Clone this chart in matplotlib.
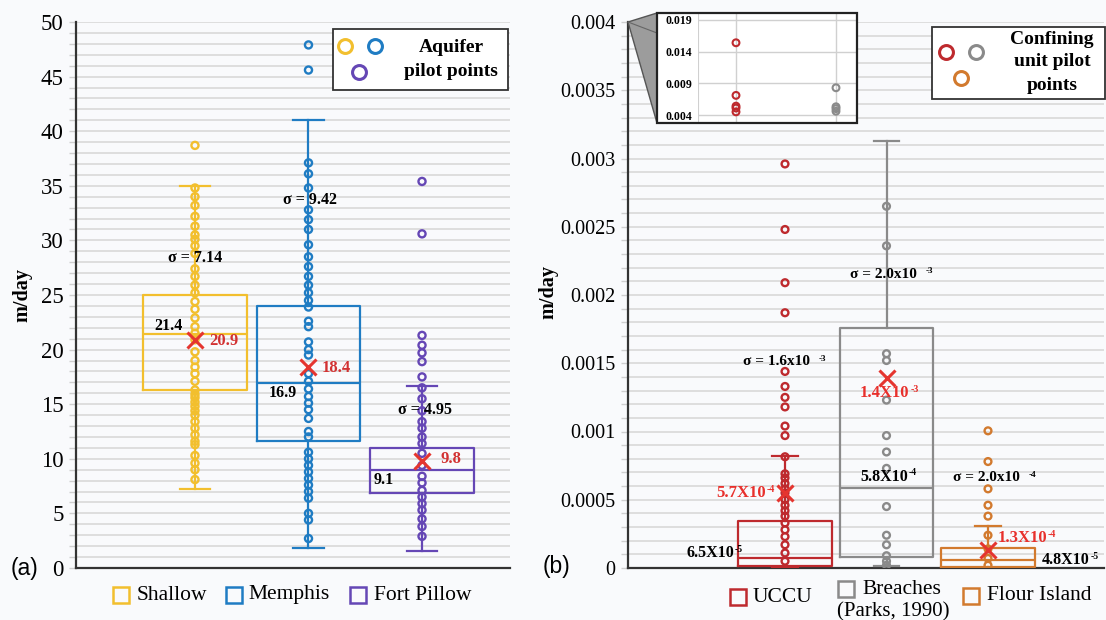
import numpy as np
import matplotlib
matplotlib.use('Agg')
import matplotlib.pyplot as plt
from matplotlib.lines import Line2D
from matplotlib.patches import Rectangle, Polygon

SERIF = ['Liberation Serif', 'DejaVu Serif']
plt.rcParams['font.family'] = SERIF

# ---------------- panel (a) data ----------------
aq_names = ['Shallow', 'Memphis', 'Fort Pillow']
aq_colors = ['#F2BF2E', '#1F7CC3', '#6547B5']
aq_q1 = [16.3, 11.6, 6.9]
aq_med = [21.4, 16.9, 9.0]
aq_q3 = [25.0, 24.0, 11.0]
aq_lo = [7.2, 1.8, 1.6]
aq_hi = [35.0, 41.0, 16.7]
aq_mean = [20.9, 18.4, 9.8]
aq_sigma = ['σ = 7.14', 'σ = 9.42', 'σ = 4.95']
aq_med_lbl = ['21.4', '16.9', '9.1']
aq_mean_lbl = ['20.9', '18.4', '9.8']

shallow_pts = [38.7, 34.8, 34.0, 33.2, 32.2, 31.3, 30.5, 30.1, 29.5, 28.8, 27.4, 26.7,
               25.9, 25.2, 24.4, 23.7, 22.9, 22.1, 21.5, 20.9, 19.8, 19.0, 18.4, 17.8,
               17.1, 16.3, 15.9, 15.6, 15.2, 14.8, 14.4, 14.0, 13.4, 12.8, 12.2, 11.6,
               11.3, 10.3, 9.6, 9.0, 8.1]
memphis_pts = [47.9, 45.6, 37.1, 36.1, 34.8, 32.8, 31.9, 31.0, 29.6, 28.5, 27.6, 26.7,
               25.9, 25.2, 24.5, 23.9, 22.6, 22.1, 20.7, 20.0, 19.5, 17.8, 17.1, 16.4,
               15.7, 15.1, 14.5, 13.7, 12.5, 12.0, 10.6, 10.0, 9.4, 8.8, 8.2, 7.6, 7.0,
               6.4, 5.0, 4.4, 2.7]
fortpillow_pts = [35.4, 30.6, 21.3, 20.4, 19.7, 18.9, 17.5, 16.5, 15.5, 14.4, 13.4, 12.8,
                  12.0, 11.4, 10.5, 9.4, 8.4, 7.8, 7.1, 6.5, 5.9, 5.3, 4.5, 3.8, 2.9]
aq_yticks = [0, 5, 10, 15, 20, 25, 30, 35, 40, 45, 50]

# ---------------- panel (b) data ----------------
cu_names = ['UCCU', 'Breaches', 'Flour Island']
cu_colors = ['#BE2A2E', '#8A8A8A', '#D27A2E']
cu_q1 = [0.000017, 0.000083, 0.00001]
cu_med = [0.000071, 0.000584, 0.00006]
cu_q3 = [0.000347, 0.00176, 0.00015]
cu_lo = [0.0, 0.000015, 0.0]
cu_hi = [0.00082, 0.00313, 0.00031]
cu_mean = [0.00055, 0.00139, 0.00013]

uccu_pts = [0.00296, 0.00248, 0.00209, 0.00187, 0.00144, 0.00133, 0.00125, 0.00118,
            0.00104, 0.00097, 0.000815, 0.00069, 0.00066, 0.00062, 0.00058, 0.00055,
            0.0005, 0.00046, 0.00042, 0.00038, 0.00033, 0.00028, 0.00023, 0.00017,
            0.00011, 0.00005]
breaches_pts = [0.00265, 0.00236, 0.00157, 0.00152, 0.00123, 0.00097, 0.00085, 0.00073,
                0.00045, 0.00024, 0.00017, 0.00009, 0.00005, 0.00002]
flour_pts = [0.001005, 0.00078, 0.00058, 0.00046, 0.00038, 0.00024, 0.00014, 0.00007,
             0.00002]
cu_yticks = [0, 0.0005, 0.001, 0.0015, 0.002, 0.0025, 0.003, 0.0035, 0.004]
cu_yticklabels = ['0', '0.0005', '0.001', '0.0015', '0.002', '0.0025', '0.003', '0.0035', '0.004']

inset_uccu = [0.0154, 0.0071, 0.0054, 0.0051, 0.0045]
inset_breaches = [0.0083, 0.0053, 0.0050, 0.0046]
inset_yticks = [0.004, 0.009, 0.014, 0.019]
inset_yticklabels = ['0.004', '0.009', '0.014', '0.019']

BG = '#F9FAFC'
GRID = '#D9D9D9'
MEANX = '#E5352F'
RED_A = '#D23232'
RED_B = '#E8302C'

W, H = 1106, 620
fig = plt.figure(figsize=(W / 100, H / 100), dpi=100, facecolor=BG)


def rect(x0, y0, x1, y1):
    return [x0 / W, 1 - y1 / H, (x1 - x0) / W, (y1 - y0) / H]


def fx(x):
    return x / W


def fy(y):
    return 1 - y / H


def style_axes(ax, major, minor, labels, lsize):
    ax.set_facecolor(BG)
    for s in ['top', 'right']:
        ax.spines[s].set_visible(False)
    for s in ['left', 'bottom']:
        ax.spines[s].set_color('#333333')
        ax.spines[s].set_linewidth(1.6)
    ax.set_yticks(major)
    ax.set_yticklabels(labels)
    ax.set_yticks(minor, minor=True)
    ax.set_xticks([])
    ax.tick_params(axis='y', which='both', length=5, color='#CFCFCF', width=1, labelsize=lsize, pad=4)
    ax.grid(axis='y', which='both', color=GRID, lw=1.2)
    ax.set_axisbelow(True)


def draw_boxes(ax, q1, med, q3, lo, hi, mean, colors, width, capw, lw):
    stats = [dict(q1=a, med=b, q3=c, whislo=d, whishi=e, mean=f, fliers=[])
             for a, b, c, d, e, f in zip(q1, med, q3, lo, hi, mean)]
    art = ax.bxp(stats, positions=list(range(1, len(stats) + 1)), widths=width,
                 capwidths=capw, showmeans=True, showfliers=False, manage_ticks=False,
                 meanprops=dict(marker='x', markeredgecolor=MEANX, markersize=12,
                                markeredgewidth=2.2, linestyle='none'), zorder=3)
    for i, c in enumerate(colors):
        art['boxes'][i].set(color=c, lw=lw)
        art['medians'][i].set(color=c, lw=lw)
        for w in art['whiskers'][2 * i:2 * i + 2]:
            w.set(color=c, lw=lw)
        for cp in art['caps'][2 * i:2 * i + 2]:
            cp.set(color=c, lw=lw)
        art['means'][i].set_zorder(6)


def expo_text(ax, x, y, base, exp, color, size, ha, gap):
    t = ax.text(x, y, base, color=color, fontsize=size, fontweight='bold', ha=ha,
                va='center', zorder=7)
    ax.annotate(exp, xy=(1, 0.45), xycoords=t, xytext=(gap, 0), textcoords='offset points',
                fontsize=size * 0.6, fontweight='bold', color=color, ha='left', va='bottom',
                zorder=7)


# ================= panel (a) =================
axa = fig.add_axes(rect(76, 22, 510, 568))
style_axes(axa, aq_yticks, np.arange(0, 51, 1), [str(v) for v in aq_yticks], 16.5)
axa.set_ylim(0, 50)
axa.set_xlim(-0.048, 3.775)
draw_boxes(axa, aq_q1, aq_med, aq_q3, aq_lo, aq_hi, aq_mean, aq_colors, 0.91, 0.27, 1.6)
for i, (pts, c) in enumerate(zip([shallow_pts, memphis_pts, fortpillow_pts], aq_colors)):
    axa.scatter(np.full(len(pts), i + 1), pts, s=26, facecolors='none', edgecolors=c,
                linewidths=1.7, zorder=4)

sig_xy = [(1.0, 28.4), (2.01, 33.7), (3.03, 14.5)]
for (x, y), s in zip(sig_xy, aq_sigma):
    axa.text(x, y, s, fontsize=11.5, fontweight='bold', ha='center', va='center', zorder=7)
med_xy = [(0.77, 22.2), (1.77, 16.0), (2.66, 8.1)]
for (x, y), s in zip(med_xy, aq_med_lbl):
    axa.text(x, y, s, fontsize=11.5, fontweight='bold', ha='center', va='center', zorder=7)
mean_xy = [(1.13, 20.8), (2.12, 18.3), (3.16, 9.95)]
for (x, y), s in zip(mean_xy, aq_mean_lbl):
    axa.text(x, y, s, fontsize=12, fontweight='bold', color=RED_A, ha='left', va='center',
             zorder=7)

# ================= panel (b) =================
axb = fig.add_axes(rect(628, 22, 1104, 568))
style_axes(axb, cu_yticks, np.arange(0, 41, 1) * 0.0001, cu_yticklabels, 14.5)
axb.set_ylim(0, 0.004)
axb.set_xlim(-0.547, 4.143)
draw_boxes(axb, cu_q1, cu_med, cu_q3, cu_lo, cu_hi, cu_mean, cu_colors, 0.92, 0.25, 1.6)
for i, (pts, c) in enumerate(zip([uccu_pts, breaches_pts, flour_pts], cu_colors)):
    axb.scatter(np.full(len(pts), i + 1), pts, s=24, facecolors='none', edgecolors=c,
                linewidths=1.7, zorder=4)

expo_text(axb, 0.586, 0.00151, 'σ = 1.6x10', '-3', 'black', 11, 'left', 6)
expo_text(axb, 1.64, 0.00215, 'σ = 2.0x10', '-3', 'black', 11, 'left', 6)
expo_text(axb, 2.655, 0.00066, 'σ = 2.0x10', '-4', 'black', 11, 'left', 6)
expo_text(axb, 0.81, 0.00055, '5.7X10', '-4', RED_B, 12, 'right', 0.5)
expo_text(axb, 1.74, 0.00128, '1.4X10', '-3', RED_B, 12, 'left', 0.5)
expo_text(axb, 3.09, 0.00022, '1.3X10', '-4', RED_B, 12, 'left', 0.5)
expo_text(axb, 0.5, 0.00011, '6.5X10', '-5', 'black', 11.5, 'right', 0.5)
expo_text(axb, 1.74, 0.00067, '5.8X10', '-4', 'black', 11.5, 'left', 0.5)
expo_text(axb, 3.53, 0.00006, '4.8X10', '-5', 'black', 11.5, 'left', 0.5)

# ---- inset (zoom of values above 0.004) ----
fig.add_artist(Polygon([(fx(628), fy(22)), (fx(657), fy(13)), (fx(657), fy(123))],
                       closed=True, facecolor='#9C9C9C', edgecolor='#555555', lw=1,
                       transform=fig.transFigure, zorder=3))
fig.add_artist(Line2D([fx(628), fx(657)], [fy(22), fy(33)], color='#666666', lw=0.8,
                      transform=fig.transFigure, zorder=3.5))
fig.add_artist(Rectangle((fx(657), fy(123)), (857 - 657) / W, 110 / H, facecolor='white',
                         edgecolor='none', transform=fig.transFigure, zorder=4))
axi = fig.add_axes(rect(698, 13, 857, 123), zorder=5)
axi.set_facecolor('white')
axi.set_ylim(0.00274, 0.0201)
axi.set_xlim(0.62, 2.21)
for s in axi.spines.values():
    s.set_visible(False)
axi.set_yticks(inset_yticks)
axi.set_yticklabels(inset_yticklabels)
axi.set_xticks([1, 2])
axi.set_xticklabels([])
axi.tick_params(length=0, labelsize=8.5, pad=4)
for lb in axi.get_yticklabels():
    lb.set_fontweight('bold')
axi.grid(True, color='#D0D0D0', lw=1)
axi.axvline(0.62, color='#D0D0D0', lw=1.5)
axi.set_axisbelow(True)
axi.scatter(np.full(len(inset_uccu), 1), inset_uccu, s=24, facecolors='none',
            edgecolors=cu_colors[0], linewidths=1.5, zorder=4)
axi.scatter(np.full(len(inset_breaches), 2), inset_breaches, s=24, facecolors='none',
            edgecolors=cu_colors[1], linewidths=1.5, zorder=4)
fig.add_artist(Rectangle((fx(657), fy(123)), (857 - 657) / W, 110 / H, facecolor='none',
                         edgecolor='#222222', lw=1.6, transform=fig.transFigure, zorder=6))

# ================= legends / labels (figure level) =================
def fig_marker(x, y, color, marker='o', ms=10, mew=2.2):
    fig.add_artist(Line2D([fx(x)], [fy(y)], marker=marker, markersize=ms, markerfacecolor='none',
                          markeredgecolor=color, markeredgewidth=mew, linestyle='none',
                          transform=fig.transFigure, zorder=8))

# aquifer legend box
fig.add_artist(Rectangle((fx(333), fy(90)), (508 - 333) / W, (90 - 29) / H, facecolor='white',
                         edgecolor='#333333', lw=1.3, transform=fig.transFigure, zorder=7))
fig_marker(345, 46, aq_colors[0])
fig_marker(375, 46, aq_colors[1])
fig_marker(359, 72, aq_colors[2])
fig.text(fx(451), fy(47), 'Aquifer', fontsize=14, fontweight='bold', ha='center', va='center', zorder=9)
fig.text(fx(451), fy(71), 'pilot points', fontsize=14, fontweight='bold', ha='center', va='center', zorder=9)

# confining legend box
fig.add_artist(Rectangle((fx(932), fy(99)), (1105 - 932) / W, (99 - 27) / H, facecolor='white',
                         edgecolor='#333333', lw=1.3, transform=fig.transFigure, zorder=7))
fig_marker(946, 52, cu_colors[0])
fig_marker(976, 52, cu_colors[1])
fig_marker(961, 78, cu_colors[2])
for yy, s in zip([39, 62, 85], ['Confining', 'unit pilot', 'points']):
    fig.text(fx(1052), fy(yy), s, fontsize=14, fontweight='bold', ha='center', va='center', zorder=9)

# bottom legends
leg_a = [(121, 595, 137), (234, 595, 248), (358, 595, 374)]
for (sx, sy, tx), c, n in zip(leg_a, aq_colors, aq_names):
    fig_marker(sx, sy, c, marker='s', ms=11.5, mew=1.8)
    fig.text(fx(tx), fy(sy), n, fontsize=15.5, ha='left', va='center')

leg_b = [(738, 597, 753), (846, 589, 862), (971, 596, 987)]
for (sx, sy, tx), c, n in zip(leg_b, cu_colors, cu_names):
    fig_marker(sx, sy, c, marker='s', ms=11.5, mew=1.8)
    fig.text(fx(tx), fy(sy), n, fontsize=15.5, ha='left', va='center')
fig.text(fx(837), fy(612), '(Parks, 1990)', fontsize=15, ha='left', va='center')

# axis titles and panel letters
fig.text(fx(22), fy(295), 'm/day', fontsize=14.5, fontweight='bold', rotation=90,
         ha='center', va='center')
fig.text(fx(548), fy(292), 'm/day', fontsize=14.5, fontweight='bold', rotation=90,
         ha='center', va='center')
fig.text(fx(24), fy(568), '(a)', fontsize=16.5, family=['Liberation Sans', 'DejaVu Sans'],
         ha='center', va='center')
fig.text(fx(556), fy(567), '(b)', fontsize=16.5, family=['Liberation Sans', 'DejaVu Sans'],
         ha='center', va='center')

fig.savefig('out.png', dpi=100, facecolor=BG)
